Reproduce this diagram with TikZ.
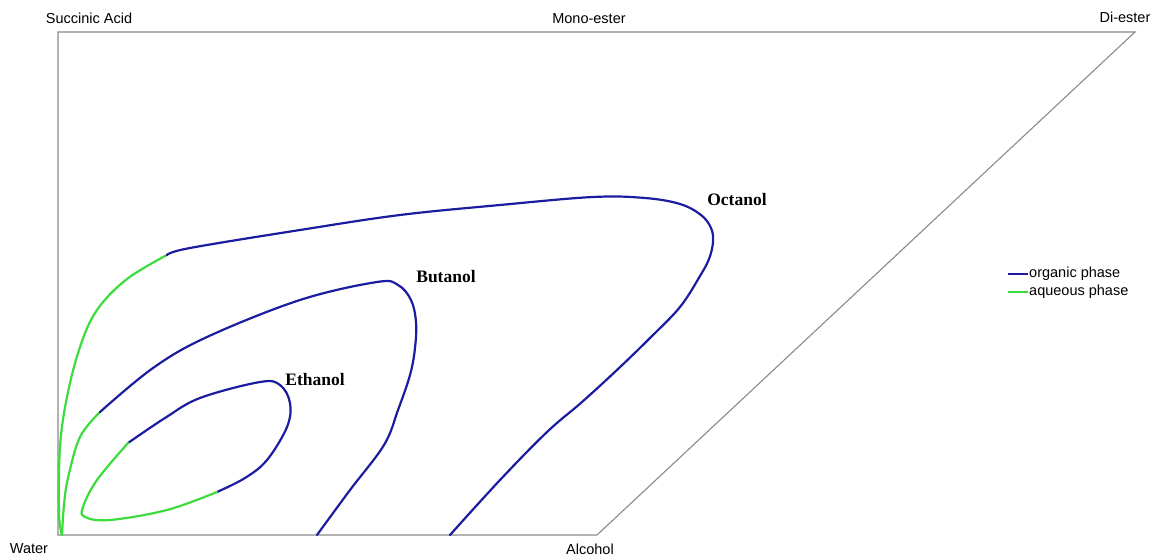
\documentclass[tikz,border=0pt]{standalone}
\usepackage{fontspec}
\setmainfont{Liberation Serif}
\setsansfont{Liberation Sans}
\definecolor{orgblue}{HTML}{1C1CA0}
\definecolor{aqgreen}{HTML}{3CDC3C}
\definecolor{framegray}{HTML}{8A8A8A}
\begin{document}
\begin{tikzpicture}[x=1pt,y=-1pt,
  frame/.style={draw=framegray,line width=1.1pt},
  org/.style={draw=orgblue,line width=2.2pt,line cap=round,line join=round},
  aq/.style={draw=aqgreen,line width=2.2pt,line cap=round,line join=round},
  corner/.style={font=\sffamily\fontsize{14.5}{16}\selectfont,inner sep=0pt},
  curvelabel/.style={font=\bfseries\fontsize{17.5}{20}\selectfont,inner sep=0pt},
  legendtext/.style={font=\sffamily\fontsize{14.5}{16}\selectfont,inner sep=0pt,anchor=west}]
\useasboundingbox (0,0) rectangle (1153,556);
% frame
\coordinate (SA) at (58,32);
\coordinate (DE) at (1135,32);
\coordinate (AL) at (597,535);
\coordinate (WA) at (58,535);
\draw[frame] (DE) -- (SA) -- (WA) -- (AL) -- cycle;
% corner labels
\node[corner] (lSA) at (89,18) {Succinic Acid};
\node[corner] (lME) at (589,19) {Mono-ester};
\node[corner] (lDE) at (1125,17) {Di-ester};
\node[corner] (lWA) at (29,549) {Water};
\node[corner] (lAL) at (590,549) {Alcohol};
% Octanol
\draw[aq] plot[smooth,tension=0.6] coordinates {(62,535) (59,513) (60,447) (67,397) (80,347) (97,310) (127,279) (167,255)};
\draw[org] plot[smooth,tension=0.6] coordinates {(167,255) (190,248) (300,230) (400,215) (500,205) (593,197) (645,198) (680,204) (701,215) (711,228) (713,242) (709,259) (700,276) (680,307) (650,338) (618,369) (582,402) (547,432) (500,480) (450,535)};
% Butanol
\draw[aq] plot[smooth,tension=0.6] coordinates {(62,535) (64,505) (68,478) (80,437) (100,412)};
\draw[org] plot[smooth,tension=0.6] coordinates {(100,412) (153,368) (207,337) (300,300) (377,282) (398,285) (411,300) (416,322) (415,348) (410,375) (398,410) (384,445) (350,490) (317,535)};
% Ethanol
\draw[org] plot[smooth,tension=0.6] coordinates {(128,443) (165,418) (200,398) (260,382) (280,385) (290,403) (287,427) (267,460) (245,478) (217,492)};
\draw[aq] plot[smooth,tension=0.6] coordinates {(217,492) (167,510) (110,520) (85,517) (83,507) (97,480) (128,443)};
% curve labels
\node[curvelabel] (lEt) at (315,380) {Ethanol};
\node[curvelabel] (lBu) at (446,277) {Butanol};
\node[curvelabel] (lOc) at (737,200) {Octanol};
% legend
\coordinate (lg1a) at (1008,274);
\coordinate (lg1b) at (1028,274);
\coordinate (lg2a) at (1008,292);
\coordinate (lg2b) at (1028,292);
\draw[draw=orgblue,line width=1.8pt] (lg1a) -- (lg1b);
\draw[draw=aqgreen,line width=1.8pt] (lg2a) -- (lg2b);
\node[legendtext] (tOrg) at (1029,274) {organic phase};
\node[legendtext] (tAq) at (1029,292) {aqueous phase};
\end{tikzpicture}
\end{document}
